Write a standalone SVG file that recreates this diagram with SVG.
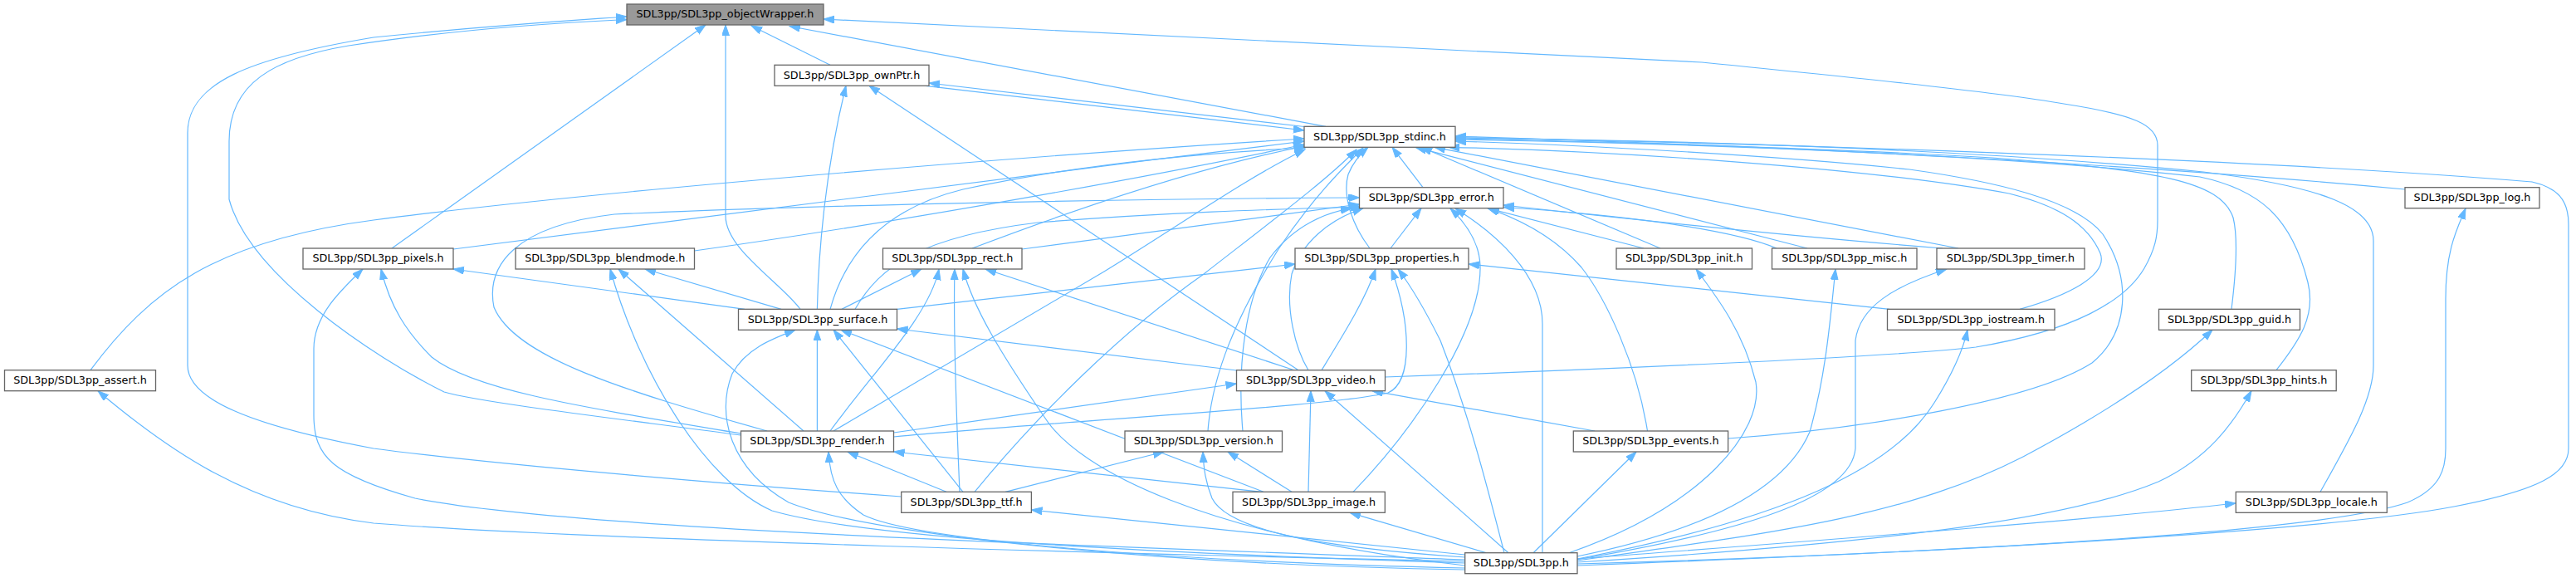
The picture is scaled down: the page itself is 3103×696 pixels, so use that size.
<svg xmlns="http://www.w3.org/2000/svg" width="3103" height="696" viewBox="0 0 3103 696">
<defs>
<marker id="arr" markerUnits="userSpaceOnUse" markerWidth="14" markerHeight="10" refX="13" refY="4.5" orient="auto"><path d="M0,0 L13,4.5 L0,9 z" fill="#63b8ff" stroke="#63b8ff" stroke-width="1"/></marker>
</defs>
<style>
.node rect{fill:#ffffff;stroke:#666666;stroke-width:1.3}
#n_objectWrapper rect{fill:#999999}
.node text{font-family:"DejaVu Sans",sans-serif;font-size:12.75px;fill:#000000;text-anchor:middle}
#edges path{fill:none;stroke:#63b8ff;stroke-width:1.2;marker-end:url(#arr)}
</style>
<rect x="0" y="0" width="3103" height="696" fill="#ffffff"/>
<g id="edges">
<path d="M1000,78.3 L905,31"/>
<path d="M1597,152.3 L951,31.5"/>
<path d="M1115,103.3 L1571,157"/>
<path d="M1571,152.5 L1119,100"/>
<path d="M1668.5,454 C1900,446 2280,430 2380,418 C2500,398 2560,362 2583,323 C2596,300 2599,285 2599,265 L2599,175 C2599,150 2570,138 2486,125 C2400,110 2200,90 2050,75 L992,23"/>
<path d="M1900,679 C2300,668 2800,640 2956,610 C3060,590 3094,570 3094,540 L3094,270 C3094,240 3080,226 3050,219 C2700,190 2100,172 1753,165.5"/>
<path d="M2897,228 C2600,200 2200,178 1753,164"/>
<path d="M1900,681 C2400,662 2800,640 2900,605 C2940,588 2946,565 2946,540 L2946,360 C2946,300 2960,275 2970,251"/>
<path d="M2795,592.3 C2830,530 2859,480 2859,440 L2859,290 C2859,250 2800,225 2654,207 C2400,182 2100,170 1753,166"/>
<path d="M1900,673 C2200,650 2500,628 2693,606"/>
<path d="M2688,372.3 C2692,340 2697,290 2690,262 C2675,218 2600,205 2400,190 C2200,178 1900,170 1753,167"/>
<path d="M1900,675 C2150,640 2300,620 2437,550 C2550,490 2620,440 2665,397.3"/>
<path d="M2742,445.7 C2770,410 2790,380 2780,340 C2760,260 2720,228 2650,213 C2400,185 2000,172 1753,168"/>
<path d="M1900,677 C2300,652 2500,622 2600,580 C2660,552 2690,510 2712,470.7"/>
<path d="M2081.6,528 C2250,516 2450,482 2520,437 C2565,400 2568,335 2533,282 C2500,240 2400,218 2300,204 C2150,188 1900,174 1753,170"/>
<path d="M2433,372.3 C2490,356 2540,332 2530,305 C2515,270 2480,248 2420,233 C2250,202 1950,182 1745,177.3"/>
<path d="M2276,372.3 L1769,318"/>
<path d="M1900,673 C2150,625 2280,565 2330,485 C2355,445 2365,420 2370,397.3"/>
<path d="M2359,299 L1728,177.3"/>
<path d="M2340,299 C2200,288 2000,268 1811,247"/>
<path d="M2177,299 L1705,177.3"/>
<path d="M2140,299 C2100,282 2000,262 1811,249.5"/>
<path d="M2000,299 L1712,177.3"/>
<path d="M1980,299 L1793,251"/>
<path d="M1890,665.7 C2050,610 2125,520 2115,460 C2100,400 2070,360 2043,324"/>
<path d="M1895,671 C2050,640 2150,590 2180,520 C2200,450 2205,380 2211,324"/>
<path d="M1898,674 C2100,640 2230,600 2235,540 L2235,410 C2240,370 2280,345 2345,324"/>
<path d="M1714,225.7 L1677,177.3"/>
<path d="M1650,299 C1628,270 1617,235 1624,210 C1630,195 1638,186 1648,177.3"/>
<path d="M1675,299 L1712,250.7"/>
<path d="M1171,299 C1300,250 1450,200 1572,176"/>
<path d="M1231,300 L1637.5,246"/>
<path d="M472,299 L850,30"/>
<path d="M546,300 C800,268 1200,215 1571,170"/>
<path d="M836.5,302 C1100,265 1400,210 1571,174"/>
<path d="M109,445.7 C180,350 260,290 450,265 C700,232 1200,190 1571,167"/>
<path d="M1764.7,676 C1400,668 700,650 450,630 C300,612 200,540 118,470.7"/>
<path d="M964,372.3 C940,340 874,300 874,260 L874,30"/>
<path d="M984.4,372.3 C986,300 995,200 1019,103.3"/>
<path d="M897,372.3 L546,324"/>
<path d="M941,372.3 L777,324"/>
<path d="M1000,372.3 C1020,300 1070,250 1160,228 C1300,198 1450,184 1572,178"/>
<path d="M1030,372.3 C1060,320 1110,285 1250,268 C1400,256 1530,252 1640,249"/>
<path d="M1014,372.3 L1110,324"/>
<path d="M1080.5,372.3 L1560,318"/>
<path d="M1489.5,446 L1080.5,396"/>
<path d="M1559,445.7 L1187,324"/>
<path d="M1564,445.7 L1047,103.3"/>
<path d="M1576,445.7 C1560,420 1548,370 1556,330 C1568,292 1600,265 1642,250.7"/>
<path d="M1592,445.7 C1620,400 1645,360 1657,324"/>
<path d="M892.5,524 C750,505 580,485 535,472 C450,430 300,330 276,240 L276,170 C276,100 330,70 420,55 C550,35 680,27 755,23.5"/>
<path d="M1085.7,598 C900,585 600,560 450,540 C300,512 226,480 226,440 L226,160 C226,100 300,70 450,45 C600,30 700,24 755,20"/>
<path d="M892.5,522 C700,490 570,470 520,430 C490,400 470,370 459,324"/>
<path d="M1764.7,674 C1400,660 700,640 500,600 C400,572 378,550 378,500 L378,420 C378,380 410,350 437,324"/>
<path d="M968,519 L745,324"/>
<path d="M1764.7,678 C1400,666 1050,650 930,615 C850,580 770,450 735,324"/>
<path d="M924,519 C750,470 620,430 595,370 C585,320 620,272 740,258 C1000,246 1400,239 1637.5,238"/>
<path d="M984.4,519 L984.4,397.3"/>
<path d="M1000,519 C1050,450 1120,380 1131,324"/>
<path d="M1004,519 L1330,327 C1420,272 1500,215 1572,180"/>
<path d="M1156,592.3 C1152,500 1148,400 1150,324"/>
<path d="M1764.7,681 C1450,645 1300,565 1260,505 C1205,425 1172,370 1160,324"/>
<path d="M1174,592.3 C1250,500 1350,400 1450,330 C1540,260 1600,215 1634,180"/>
<path d="M1076.5,521 L1489.5,462"/>
<path d="M1076.5,526 C1300,505 1600,490 1672,473 C1702,460 1700,390 1676,324"/>
<path d="M1455,519 C1460,450 1490,380 1540,300 C1580,240 1615,205 1642,178"/>
<path d="M1497,519 C1490,440 1500,360 1530,310 C1560,270 1600,255 1628,251"/>
<path d="M1520,592.3 L1076.5,544"/>
<path d="M1522,592.3 L1013,397.3"/>
<path d="M1576,592.3 L1579,470.7"/>
<path d="M1556,592.3 L1479,544"/>
<path d="M1630,592.3 C1700,520 1785,400 1783,320 C1782,290 1765,268 1747,251"/>
<path d="M1921,519 L1653,470.7"/>
<path d="M1984.5,519 C1972,440 1935,360 1905,322 C1870,282 1825,262 1792,250.7"/>
<path d="M1847,665.7 L1971,544"/>
<path d="M1817,665.7 L1596,470.7"/>
<path d="M1790,665.7 L1626,617.3"/>
<path d="M1764.7,668 L1242.4,614"/>
<path d="M1764.7,671 C1600,660 1480,640 1460,600 C1452,580 1450,565 1449,544"/>
<path d="M1764.7,684 C1400,676 1100,650 1040,620 C1010,600 1000,580 998,544"/>
<path d="M1764.7,686 C1400,680 1050,645 950,605 C880,565 862,500 882,450 C898,420 930,408 958,397.3"/>
<path d="M1812,665.7 C1795,600 1770,500 1735,410 C1715,370 1700,345 1684,324"/>
<path d="M1858,665.7 L1858,390 C1858,330 1800,280 1753,251"/>
<path d="M1140,592.3 L1021,544"/>
<path d="M1160,592.3 L1004,397.3"/>
<path d="M1211,592.3 L1402,544"/>
</g>
<g id="n_objectWrapper" class="node"><rect x="755" y="5" width="237" height="25"/><text x="873.5" y="21.2">SDL3pp/SDL3pp_objectWrapper.h</text></g>
<g id="n_ownPtr" class="node"><rect x="933" y="78.3" width="186" height="25"/><text x="1026" y="94.5">SDL3pp/SDL3pp_ownPtr.h</text></g>
<g id="n_stdinc" class="node"><rect x="1571" y="152.3" width="182" height="25"/><text x="1662" y="168.5">SDL3pp/SDL3pp_stdinc.h</text></g>
<g id="n_error" class="node"><rect x="1637.5" y="225.7" width="173.5" height="25"/><text x="1724.25" y="241.9">SDL3pp/SDL3pp_error.h</text></g>
<g id="n_log" class="node"><rect x="2897" y="225.7" width="162" height="25"/><text x="2978" y="241.9">SDL3pp/SDL3pp_log.h</text></g>
<g id="n_pixels" class="node"><rect x="365" y="299" width="181" height="25"/><text x="455.5" y="315.2">SDL3pp/SDL3pp_pixels.h</text></g>
<g id="n_blendmode" class="node"><rect x="621" y="299" width="215.5" height="25"/><text x="728.75" y="315.2">SDL3pp/SDL3pp_blendmode.h</text></g>
<g id="n_rect" class="node"><rect x="1063.5" y="299" width="167.5" height="25"/><text x="1147.25" y="315.2">SDL3pp/SDL3pp_rect.h</text></g>
<g id="n_properties" class="node"><rect x="1560" y="299" width="209" height="25"/><text x="1664.5" y="315.2">SDL3pp/SDL3pp_properties.h</text></g>
<g id="n_init" class="node"><rect x="1947" y="299" width="163.5" height="25"/><text x="2028.75" y="315.2">SDL3pp/SDL3pp_init.h</text></g>
<g id="n_misc" class="node"><rect x="2134.5" y="299" width="174.5" height="25"/><text x="2221.75" y="315.2">SDL3pp/SDL3pp_misc.h</text></g>
<g id="n_timer" class="node"><rect x="2333" y="299" width="178" height="25"/><text x="2422" y="315.2">SDL3pp/SDL3pp_timer.h</text></g>
<g id="n_surface" class="node"><rect x="889.5" y="372.3" width="191" height="25"/><text x="985" y="388.5">SDL3pp/SDL3pp_surface.h</text></g>
<g id="n_iostream" class="node"><rect x="2273.5" y="372.3" width="201.5" height="25"/><text x="2374.25" y="388.5">SDL3pp/SDL3pp_iostream.h</text></g>
<g id="n_guid" class="node"><rect x="2600.5" y="372.3" width="170" height="25"/><text x="2685.5" y="388.5">SDL3pp/SDL3pp_guid.h</text></g>
<g id="n_assert" class="node"><rect x="5.5" y="445.7" width="182" height="25"/><text x="96.5" y="461.9">SDL3pp/SDL3pp_assert.h</text></g>
<g id="n_video" class="node"><rect x="1489.5" y="445.7" width="179" height="25"/><text x="1579" y="461.9">SDL3pp/SDL3pp_video.h</text></g>
<g id="n_hints" class="node"><rect x="2639.7" y="445.7" width="174.5" height="25"/><text x="2726.95" y="461.9">SDL3pp/SDL3pp_hints.h</text></g>
<g id="n_render" class="node"><rect x="892.5" y="519" width="184" height="25"/><text x="984.5" y="535.2">SDL3pp/SDL3pp_render.h</text></g>
<g id="n_version" class="node"><rect x="1355" y="519" width="189.5" height="25"/><text x="1449.75" y="535.2">SDL3pp/SDL3pp_version.h</text></g>
<g id="n_events" class="node"><rect x="1895.3" y="519" width="186.3" height="25"/><text x="1988.45" y="535.2">SDL3pp/SDL3pp_events.h</text></g>
<g id="n_ttf" class="node"><rect x="1085.7" y="592.3" width="156.7" height="25"/><text x="1164.05" y="608.5">SDL3pp/SDL3pp_ttf.h</text></g>
<g id="n_image" class="node"><rect x="1485" y="592.3" width="183.3" height="25"/><text x="1576.65" y="608.5">SDL3pp/SDL3pp_image.h</text></g>
<g id="n_locale" class="node"><rect x="2693.3" y="592.3" width="182" height="25"/><text x="2784.3" y="608.5">SDL3pp/SDL3pp_locale.h</text></g>
<g id="n_SDL3pp" class="node"><rect x="1764.7" y="665.7" width="135.3" height="25"/><text x="1832.35" y="681.9">SDL3pp/SDL3pp.h</text></g>
</svg>
